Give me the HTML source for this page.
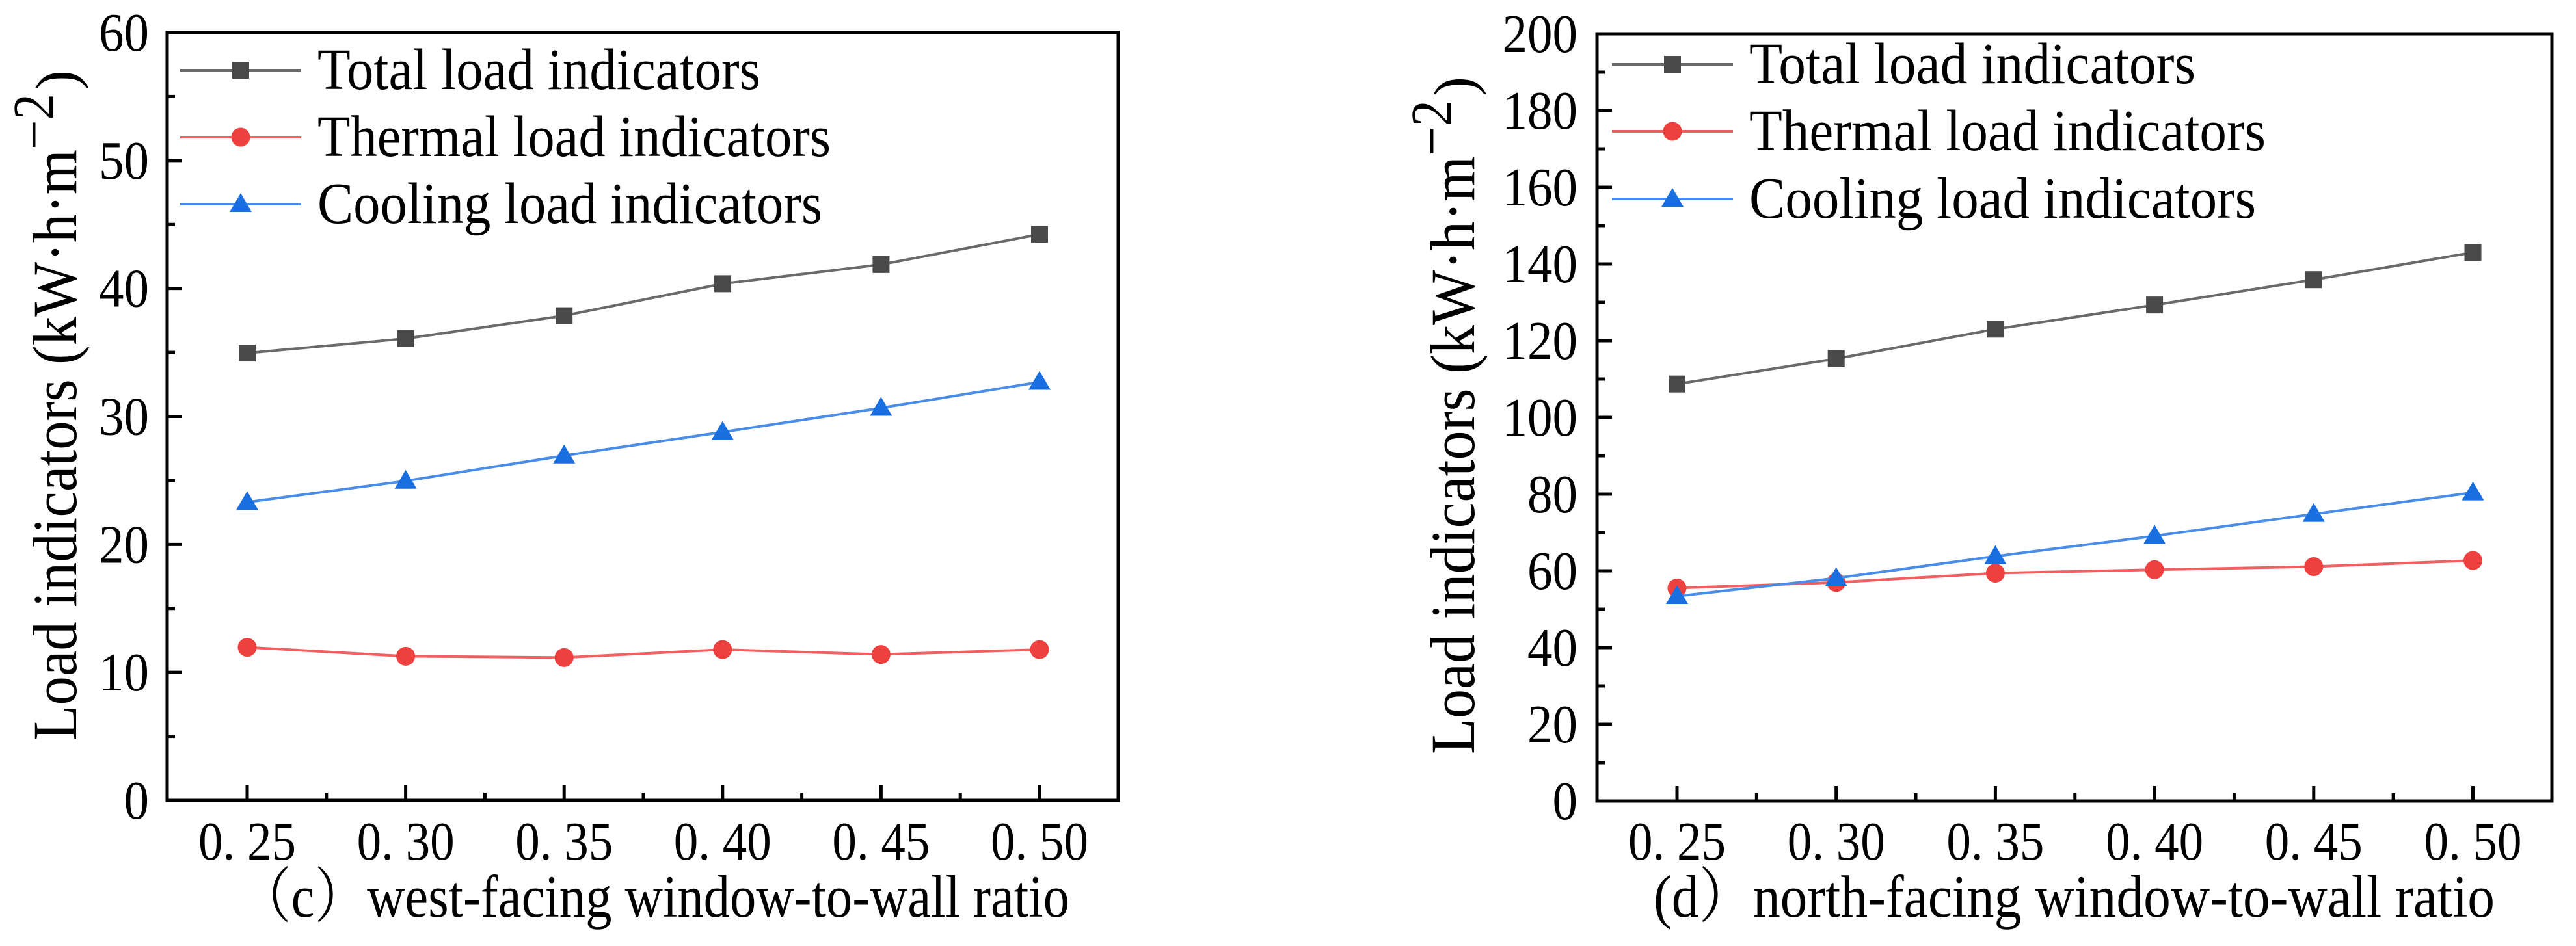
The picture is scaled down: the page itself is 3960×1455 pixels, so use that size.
<!DOCTYPE html>
<html><head><meta charset="utf-8"><style>
html,body{margin:0;padding:0;background:#fff;}
svg{display:block;}
text{font-family:"Liberation Serif","Noto Serif CJK SC",serif;fill:#000;}
</style></head><body>
<svg id="chart" width="3960" height="1455" viewBox="0 0 3960 1455" xmlns="http://www.w3.org/2000/svg"></svg>
<script>
const categories = ["0. 25","0. 30","0. 35","0. 40","0. 45","0. 50"];
const westTotal   = [34.95, 36.08, 37.87, 40.37, 41.87, 44.23];
const westThermal = [11.96, 11.26, 11.16, 11.78, 11.40, 11.78];
const westCooling = [23.30, 24.96, 26.94, 28.78, 30.66, 32.69];
const northTotal   = [108.7, 115.3, 123.0, 129.3, 135.9, 143.0];
const northThermal = [55.5, 57.0, 59.4, 60.3, 61.1, 62.7];
const northCooling = [53.4, 58.1, 63.8, 69.1, 74.8, 80.4];
const westTicks = [0,10,20,30,40,50,60];
const northTicks = [0,20,40,60,80,100,120,140,160,180,200];
const seriesNames = ["Total load indicators","Thermal load indicators","Cooling load indicators"];

const NS="http://www.w3.org/2000/svg";
const svg=document.getElementById('chart');
function mk(tag,attrs,parent){const e=document.createElementNS(NS,tag);for(const k in attrs)e.setAttribute(k,attrs[k]);(parent||svg).appendChild(e);return e;}

const styles=[
 {line:"#6a6a6a",fill:"#4a4a4a",marker:"square"},
 {line:"#f06060",fill:"#ef4040",marker:"circle"},
 {line:"#4a8de8",fill:"#1a6fe0",marker:"triangle"}
];

function marker(g,type,cx,cy,fill){
  let m;
  if(type==="square") m=mk('rect',{x:cx-13,y:cy-13,width:26,height:26,fill:fill},g);
  else if(type==="circle") m=mk('circle',{cx:cx,cy:cy,r:14.5,fill:fill},g);
  else m=mk('polygon',{points:`${cx},${cy-17} ${cx+17},${cy+12} ${cx-17},${cy+12}`,fill:fill},g);
  return m;
}

function panel(cfg){
  const g=mk('g',{});
  
  
  const L=cfg.left,R=cfg.right,T=cfg.top,B=cfg.bottom,ymax=cfg.ymax;
  const xScale=i=>cfg.x0+i*cfg.dx;
  const yScale=v=>B-(v/ymax)*(B-T);
  const frame=mk('rect',{x:L,y:T,width:R-L,height:B-T,fill:"none",stroke:"#000","stroke-width":5},g);
  
  
  const step=cfg.ticks[1]-cfg.ticks[0];
  cfg.ticks.forEach((t,i)=>{
    const y=yScale(t);
    const tk=mk('line',{x1:L,x2:L+23,y1:y,y2:y,stroke:"#000","stroke-width":5},g);
    
    
    if(i<cfg.ticks.length-1){
      const ym=yScale(t+step/2);
      mk('line',{x1:L,x2:L+12,y1:ym,y2:ym,stroke:"#000","stroke-width":5},g);
    }
    const lb=mk('text',{x:cfg.ylabRight,y:y+28,"text-anchor":"end","font-size":84},g);
    lb.textContent=String(t);
    
    
    lb.setAttribute('textLength',String(t).length*38.5);
    lb.setAttribute('lengthAdjust','spacingAndGlyphs');
  });
  categories.forEach((c,i)=>{
    const x=xScale(i);
    const tk=mk('line',{x1:x,x2:x,y1:B,y2:B-23,stroke:"#000","stroke-width":5},g);
    
    
    if(i<categories.length-1){
      const xm=x+cfg.dx/2;
      mk('line',{x1:xm,x2:xm,y1:B,y2:B-12,stroke:"#000","stroke-width":5},g);
    }
    const lb=mk('text',{x:x,y:1322,"text-anchor":"middle","font-size":84,textLength:150,lengthAdjust:"spacingAndGlyphs"},g);
    lb.textContent=c;
    
    
  });
  cfg.series.forEach((vals,si)=>{
    const st=styles[si];
    const sg=mk('g',{},g);
    
    
    const pts=vals.map((v,i)=>xScale(i)+","+yScale(v)).join(" ");
    const pl=mk('polyline',{points:pts,fill:"none",stroke:st.line,"stroke-width":4},sg);
    
    
    vals.forEach((v,i)=>{
      const m=marker(sg,st.marker,xScale(i),yScale(v),st.fill);
      
      
    });
  });
  const lg=mk('g',{},g);
  
  
  seriesNames.forEach((n,si)=>{
    const st=styles[si];
    const y=cfg.legY[si];
    const e=mk('g',{},lg);
    
    
    mk('line',{x1:cfg.legX,x2:cfg.legX+186,y1:y,y2:y,stroke:st.line,"stroke-width":4},e);
    marker(e,st.marker,cfg.legX+93,y,st.fill);
    const t=mk('text',{x:cfg.legX+211,y:y+29,"font-size":90,textLength:cfg.legW[si],lengthAdjust:"spacingAndGlyphs"},e);
    t.textContent=n;
  });
  const yt=mk('g',{transform:`translate(${cfg.ytX},${cfg.ytY}) rotate(-90)`},g);
  
  
  const t1=mk('text',{x:0,y:0,"font-size":96,textLength:cfg.ytLen,lengthAdjust:"spacingAndGlyphs"},yt);
  t1.textContent="Load indicators (kW·h·m";
  const t2=mk('text',{x:cfg.ytLen,y:-35,"font-size":90,textLength:86,lengthAdjust:"spacingAndGlyphs"},yt);
  t2.textContent="−2";
  const t3=mk('text',{x:cfg.ytLen+92,y:0,"font-size":90},yt);
  t3.textContent=")";
  const xt=mk('text',{x:cfg.xtX,y:1410,"font-size":92,textLength:cfg.xtLen,lengthAdjust:"spacingAndGlyphs"},g);
  xt.textContent=cfg.xtitle;
  
  
}

panel({name:"panel-c-west",left:257,right:1719,top:50,bottom:1231,ymax:60,ticks:westTicks,
  x0:380,dx:243.6,ylabRight:229,series:[westTotal,westThermal,westCooling],
  legX:277,legY:[108,211,314],legW:[681,789,776],
  ytX:117,ytY:1139,ytLen:909,xtX:367,xtLen:1277,
  xtitle:"（c）west-facing window-to-wall ratio"});
panel({name:"panel-d-north",left:2455,right:3923,top:52,bottom:1232,ymax:200,ticks:northTicks,
  x0:2578,dx:244.7,ylabRight:2425,series:[northTotal,northThermal,northCooling],
  legX:2478,legY:[99,202,306],legW:[686,794,779],
  ytX:2266,ytY:1160,ytLen:920,xtX:2542,xtLen:1293,
  xtitle:"(d）north-facing window-to-wall ratio"});
</script>
</body></html>
